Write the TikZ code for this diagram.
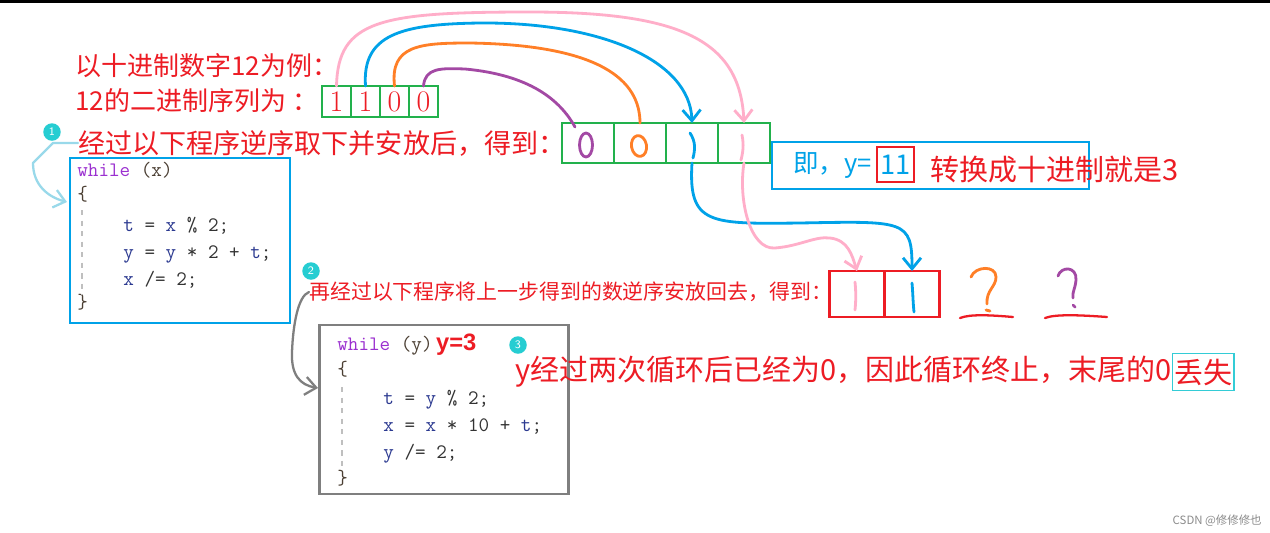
\documentclass[tikz,border=0pt]{standalone}
\usepackage{fontspec}
\newfontfamily\cjk{Noto Sans CJK SC}
\newfontfamily\sansb{Liberation Sans}
\usepackage{xcolor}
\usepackage{tikz}
\usetikzlibrary{arrows,arrows.meta,positioning}
\tikzset{>=latex}

\definecolor{redtxt}{HTML}{ED1C24}
\definecolor{grn}{HTML}{22B14C}
\definecolor{skyb}{HTML}{00A2E8}
\definecolor{lightb}{HTML}{99D9EA}
\definecolor{pinkc}{HTML}{FFAEC9}
\definecolor{orangec}{HTML}{FF7F27}
\definecolor{purplec}{HTML}{A349A4}
\definecolor{tealc}{HTML}{26CDD2}
\definecolor{cyanc}{HTML}{33CCD6}
\definecolor{grayc}{HTML}{7F7F7F}
\definecolor{kwc}{HTML}{9B30D0}
\definecolor{idc}{HTML}{2B3990}
\definecolor{brc}{HTML}{4B3F33}
\definecolor{opc}{HTML}{333333}

\newcommand{\kwd}[1]{\textcolor{kwc}{#1}}
\newcommand{\idt}[1]{\textcolor{idc}{#1}}
\newcommand{\brk}[1]{\textcolor{brc}{#1}}

\begin{document}
\begin{tikzpicture}[x=0.02cm, y=-0.02cm]
                        % units are pixels of the original screenshot (y runs down)
                        \tikzstyle{redline}=[anchor=west, inner sep=0, text=redtxt]
                        \tikzstyle{bitcell}=[draw=grn, line width=1.2pt, inner sep=0, outer sep=0, minimum width=0.58cm, minimum height=0.62cm, text=redtxt, font=\fontsize{17}{18}\selectfont]
                        \tikzstyle{gotcell}=[draw=grn, line width=1.2pt, inner sep=0, outer sep=0, minimum width=1.04cm, minimum height=0.8cm]
                        \tikzstyle{backcell}=[draw=redtxt, line width=1.4pt, inner sep=0, outer sep=0, minimum width=1.1cm, minimum height=0.92cm]
                        \tikzstyle{codebox}=[line width=1.3pt, inner sep=0, outer sep=0]
                        \tikzstyle{codeline}=[anchor=base west, inner sep=0, text=opc, font=\ttfamily\fontsize{11.7}{14}\selectfont]
                        \tikzstyle{guide}=[draw=black!25, dashed, line width=0.6pt]
                        \tikzstyle{numdot}=[circle, fill=tealc, inner sep=0, minimum size=0.35cm, text=white, font=\sffamily\fontsize{6.5}{7}\selectfont]
                        \tikzstyle{hand}=[line width=1.6pt, line cap=round, line join=round]
                        \tikzstyle{handarrow}=[hand, -{Straight Barb[length=2.2mm, width=3.6mm]}]

                        \fill[white] (0,0) rectangle (1270,532);
                        \useasboundingbox (0,0) rectangle (1270,532);
                        \fill[black] (0,0) rectangle (1270,3);

                        % the example and its binary digits
                        \node[redline, font=\cjk\fontsize{14.8}{16}\selectfont] (title) at (75,66) {以十进制数字12为例：};
                        \node[redline, font=\cjk\fontsize{14.8}{16}\selectfont] (seq) at (75,101) {12的二进制序列为 ：};
                        \foreach \d [count=\i] in {1,1,0,0}
                                \node[bitcell] (b\i) at (336.5+29*\i-29,101.5) {\d};

                        % step 1
                        \node[numdot] (n1) at (52,132) {1};
                        \node[redline, font=\cjk\fontsize{15.4}{17}\selectfont] (stepone) at (78,143) {经过以下程序逆序取下并安放后，得到：};
                        \foreach \i in {1,...,4}
                                \node[gotcell] (c\i) at (588+52*\i-52,143) {};

                        \node[codebox, draw=skyb, minimum width=4.4cm, minimum height=3.3cm] (loop1) at (180,240.5) {};
                        \node[codeline] (w1) at (77,176) {\kwd{while} \brk{(x)}};
                        \node[codeline] at (77,200) {\brk{\{}};
                        \node[codeline] at (123,231) {\idt{t} = \idt{x} \% 2;};
                        \node[codeline] at (123,258) {\idt{y} = \idt{y} * 2 + \idt{t};};
                        \node[codeline] at (123,285) {\idt{x} /= 2;};
                        \node[codeline] at (77,308) {\brk{\}}};
                        \draw[guide] (82,210) -- (82,295);

                        \coordinate (in1) at (67,202);
                        \draw[handarrow, lightb, line width=1.3pt] (stepone.west) -- (53,143) -- (33,163)
                                .. controls (33,185) and (48,197) .. (in1);

                        % y = 11
                        \node[codebox, draw=skyb, minimum width=6.34cm, minimum height=0.94cm] (info) at (930.5,165.5) {};
                        \node[anchor=west, inner sep=0, text=skyb, font=\cjk\fontsize{14.5}{16}\selectfont] (ytxt) at (793,165) {即，y=};
                        \node[draw=redtxt, line width=1.2pt, inner sep=0, minimum width=0.74cm, minimum height=0.7cm, text=skyb, font=\cjk\fontsize{15.5}{17}\selectfont] (yval) at (895.5,164.5) {11};
                        \node[redline, font=\cjk\fontsize{16.5}{19}\selectfont] (tendec) at (930,170) {转换成十进制就是3};

                        % step 2
                        \node[numdot] (n2) at (311,271) {2};
                        \node[redline, font=\cjk\fontsize{11.9}{14}\selectfont] (steptwo) at (309,292) {再经过以下程序将上一步得到的数逆序安放回去，得到：};
                        \foreach \i in {1,2}
                                \node[backcell] (d\i) at (857+55*\i-55,294) {};

                        \node[codebox, draw=grayc, minimum width=4.98cm, minimum height=3.38cm] (loop2) at (444,409.5) {};
                        \node[codeline] (w2) at (337,350) {\kwd{while} \brk{(y)}\,{\sansb\bfseries\fontsize{13.5}{16}\selectfont\color{redtxt}y=3}};
                        \node[codeline] at (337,375) {\brk{\{}};
                        \node[codeline] at (383,404) {\idt{t} = \idt{y} \% 2;};
                        \node[codeline] at (383,431) {\idt{x} = \idt{x} * 10 + \idt{t};};
                        \node[codeline] at (383,458) {\idt{y} /= 2;};
                        \node[codeline] at (337,484) {\brk{\}}};
                        \draw[guide] (342,387) -- (342,467);

                        \coordinate (in2) at (318,388);
                        \draw[handarrow, grayc, line width=1.3pt] (steptwo.west) .. controls (298,296) and (293,325) .. (292,352)
                                .. controls (291,375) and (300,385) .. (in2);

                        % step 3
                        \node[numdot] (n3) at (518,345) {3};
                        \node[redline, font=\cjk\fontsize{16.5}{19}\selectfont] (stop) at (515,372) {y经过两次循环后已经为0，因此循环终止，末尾的0};
                        \node[draw=cyanc, line width=0.8pt, inner sep=1pt, minimum height=0.74cm, text=redtxt, font=\cjk\fontsize{16.5}{19}\selectfont, right=0pt of stop] (lost) {丢失};

                        % bits taken off in reverse order
                        \coordinate (pend) at (575,127);
                        \draw[hand, pinkc, handarrow] (b1.north) .. controls (338,20) and (380,12) .. (530,12)
                                .. controls (680,12) and (740,40) .. (c4.north);
                        \draw[hand, skyb, handarrow] (b2.north) .. controls (362,35) and (400,24) .. (480,23)
                                .. controls (600,22) and (690,60) .. (c3.north);
                        \draw[hand, orangec] (b3.north) .. controls (390,45) and (420,43) .. (470,43)
                                .. controls (600,45) and (640,80) .. (c2.north);
                        \draw[hand, purplec] (b4.north) .. controls (425,68) and (440,68) .. (465,69)
                                .. controls (530,75) and (560,100) .. (pend);

                        % handwritten contents
                        \draw[hand, purplec] (586,145) ellipse [x radius=0.13cm, y radius=0.24cm];
                        \draw[hand, orangec, rotate around={10:(639,146)}] (639,146) ellipse [x radius=0.15cm, y radius=0.21cm];
                        \draw[hand, skyb] (690,133) .. controls (696,142) and (695,150) .. (693,158);
                        \draw[hand, pinkc] (742,135) .. controls (744,145) and (743,152) .. (741,160);
                        \draw[hand, pinkc] (855,282) .. controls (856,292) and (856,300) .. (855,310);
                        \draw[hand, skyb] (912,283) .. controls (913,295) and (913,303) .. (914,312);

                        % placed back
                        \draw[hand, skyb, handarrow] (c3.south) .. controls (688,225) and (710,224) .. (800,223)
                                .. controls (905,221) and (912,220) .. (d2.north);
                        \draw[hand, pinkc, handarrow] (c4.south) .. controls (738,200) and (750,250) .. (775,248)
                                .. controls (800,246) and (815,236) .. (830,238)
                                .. controls (848,240) and (852,255) .. (d1.north);

                        % the two lost places
                        \draw[hand, orangec] (971,277) .. controls (975,266) and (996,265) .. (996,277)
                                .. controls (996,287) and (986,290) .. (987,304);
                        \draw[hand, orangec] (986,310) -- (990,311);
                        \draw[hand, redtxt, line width=1.3pt] (960,318) .. controls (970,314) and (990,315) .. (1013,317);
                        \draw[hand, purplec] (1058,276) .. controls (1061,266) and (1077,266) .. (1076,280)
                                .. controls (1075,290) and (1072,292) .. (1073,298);
                        \draw[hand, purplec] (1073,305) -- (1075,307);
                        \draw[hand, redtxt, line width=1.3pt] (1045,318) .. controls (1055,314) and (1080,315) .. (1107,317);

                        \node[anchor=east, inner sep=0, text=black!45, font=\cjk\fontsize{6.5}{8}\selectfont] (mark) at (1262,521) {CSDN @修修修也};
\end{tikzpicture}
\end{document}
